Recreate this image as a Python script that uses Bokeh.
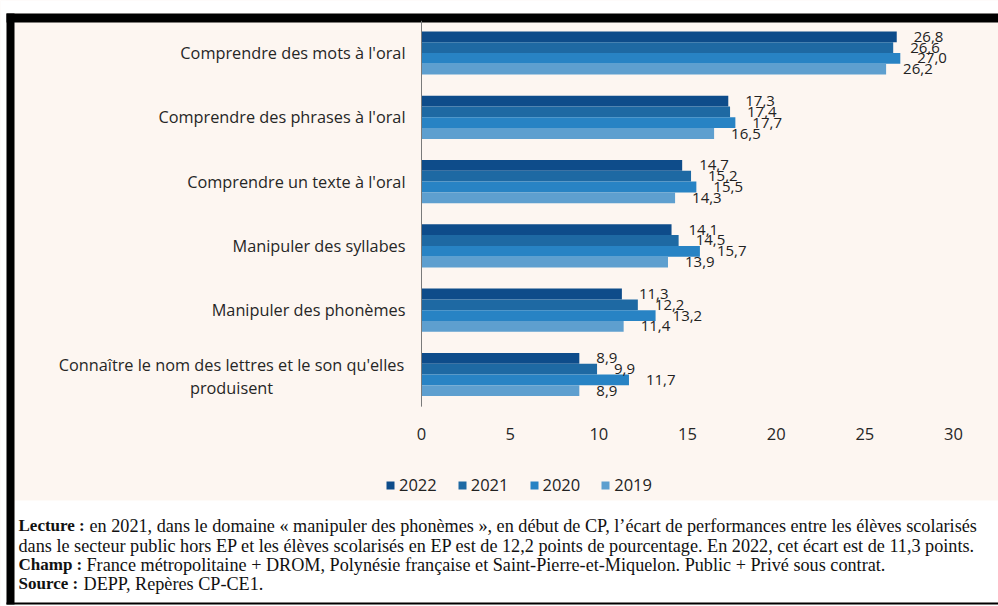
from bokeh.plotting import figure
from bokeh.models import (ColumnDataSource, LabelSet, Label, Legend, LegendItem,
                          BoxAnnotation, Range1d)
from bokeh.transform import dodge
from bokeh.core.properties import value
from bokeh.embed import file_html
from bokeh.resources import INLINE

# ---------------- data ----------------
categories = [
    "Comprendre des mots à l'oral",
    "Comprendre des phrases à l'oral",
    "Comprendre un texte à l'oral",
    "Manipuler des syllabes",
    "Manipuler des phonèmes",
    "Connaître le nom des lettres et le son qu'elles\nproduisent",
]
years = ["2022", "2021", "2020", "2019"]
v2022 = [26.8, 17.3, 14.7, 14.1, 11.3, 8.9]
v2021 = [26.6, 17.4, 15.2, 14.5, 12.2, 9.9]
v2020 = [27.0, 17.7, 15.5, 15.7, 13.2, 11.7]
v2019 = [26.2, 16.5, 14.3, 13.9, 11.4, 8.9]
x_ticks = [0, 5, 10, 15, 20, 25, 30]

note_bold = ["Lecture :", "", "Champ :", "Source :"]
note_text = [
    "en 2021, dans le domaine « manipuler des phonèmes », en début de CP, l’écart de performances entre les élèves scolarisés",
    "dans le secteur public hors EP et les élèves scolarisés en EP est de 12,2 points de pourcentage. En 2022, cet écart est de 11,3 points.",
    "France métropolitaine + DROM, Polynésie française et Saint-Pierre-et-Miquelon. Public + Privé sous contrat.",
    "DEPP, Repères CP-CE1.",
]

# ---------------- style / layout ----------------
colors = ["#0e4c8a", "#1e69a3", "#2883c4", "#5e9fcf"]
cream = "#fdf6f1"
FONT = "Open Sans"
SERIF = "Liberation Serif"
W, H = 998, 606
X0_PX = 421.0          # screen x of value 0
PX_X = 17.733          # px per unit on the value axis
TOP_PX = 52.5          # screen y of first category centre
PX_Y = 64.3            # px per category
LINE_PX = 23.0         # line spacing of wrapped category labels

n = len(categories)
ypos = list(range(n))[::-1]          # first category on top
y_top_val = ypos[0]

x_range = Range1d(-X0_PX / PX_X, (W - X0_PX) / PX_X)
y_range = Range1d(y_top_val - (H - TOP_PX) / PX_Y, y_top_val + TOP_PX / PX_Y)

p = figure(width=W, height=H, output_backend="svg", toolbar_location=None,
           x_range=x_range, y_range=y_range, x_axis_location=None, y_axis_location=None,
           min_border=0)
p.background_fill_color = cream
p.border_fill_color = cream
p.outline_line_color = None
p.xgrid.grid_line_color = None
p.ygrid.grid_line_color = None

# page decoration boxes (canvas units, y from top)
def box(l, r, t, b, color):
    bx = BoxAnnotation(left=l, right=r, top=t, bottom=b,
                       left_units="canvas", right_units="canvas",
                       bottom_units="canvas", top_units="canvas",
                       fill_color=color, fill_alpha=1, line_color=None, level="underlay")
    p.add_layout(bx)

box(0, W, 0, 13, "white")
box(0, 6, 0, H, "white")
box(14, W, 500, 602, "white")
box(0, W, 604, H, "white")
box(6, 14, 13, 604, "black")
box(6, W, 13, 22, "black")
box(6, W, 602, 604, "black")

# ---------------- bars ----------------
fmt = lambda vals: [f"{v:.1f}".replace(".", ",") for v in vals]
src = ColumnDataSource(dict(y=ypos, v2022=v2022, v2021=v2021, v2020=v2020, v2019=v2019,
                            l2022=fmt(v2022), l2021=fmt(v2021), l2020=fmt(v2020), l2019=fmt(v2019)))
bh = 0.168
offsets = [1.5 * bh, 0.5 * bh, -0.5 * bh, -1.5 * bh]
renderers = []
for yr, col, off in zip(years, colors, offsets):
    r = p.hbar(y=dodge("y", off), right="v" + yr, left=0, height=bh,
               source=src, fill_color=col, line_color=None)
    renderers.append(r)
    p.add_layout(LabelSet(x="v" + yr, y=dodge("y", off), text="l" + yr, source=src,
                          x_offset=17, text_baseline="middle", text_align="left",
                          text_font=value(FONT), text_font_size="15px", text_color="#222222"))

# vertical axis line
p.segment(x0=0, x1=0, y0=min(ypos) - 0.5, y1=max(ypos) + 0.5, line_color="#7a7a7a", line_width=1)

# category labels (wrapped labels: each line centred under the first)
lx, ly, lt, la, lo = [], [], [], [], []
for c, yv in zip(categories, ypos):
    parts = c.split("\n")
    m = len(parts)
    for k, part in enumerate(parts):
        lx.append(0)
        ly.append(yv + ((m - 1) / 2 - k) * LINE_PX / PX_Y - (1.5 / PX_Y if m > 1 else 0))
        lt.append(part)
        la.append("right" if m == 1 else "center")
        lo.append(-16 if m == 1 else -190)
csrc = ColumnDataSource(dict(x=lx, y=ly, t=lt, al=la, xo=lo))
p.add_layout(LabelSet(x="x", y="y", text="t", source=csrc, x_offset="xo", text_align="al",
                      text_baseline="middle", text_font=value(FONT), text_font_size="16.3px",
                      text_color="#262626"))

# value-axis tick labels
tick_y = min(ypos) - 0.5 - 27 / PX_Y
tsrc = ColumnDataSource(dict(x=x_ticks, y=[tick_y] * len(x_ticks), t=[str(t) for t in x_ticks]))
p.add_layout(LabelSet(x="x", y="y", text="t", source=tsrc, text_align="center",
                      text_baseline="middle", text_font=value(FONT), text_font_size="16.5px",
                      text_color="#262626"))

# ---------------- legend ----------------
legend = Legend(items=[LegendItem(label=yr, renderers=[r]) for yr, r in zip(years, renderers)],
                orientation="horizontal", location=(385, 110), glyph_width=10, glyph_height=10,
                label_standoff=4, spacing=20, padding=0, margin=0, border_line_color=None,
                background_fill_alpha=0, label_text_font=FONT, label_text_font_size="16.5px",
                label_text_color="#222222", label_height=20)
p.add_layout(legend)

# ---------------- note text ----------------
line_y = [525, 545, 564, 583]
reg_x = [89, 18, 86, 83]
for bold, reg, y, rx in zip(note_bold, note_text, line_y, reg_x):
    if bold:
        p.add_layout(Label(x=18, y=y, x_units="canvas", y_units="canvas", text=bold,
                           text_font=SERIF, text_font_style="bold", text_font_size="17px",
                           text_baseline="middle", text_color="#111111"))
    p.add_layout(Label(x=rx, y=y, x_units="canvas", y_units="canvas", text=reg,
                       text_font=SERIF, text_font_size="18.2px",
                       text_baseline="middle", text_color="#111111"))

open("out.html", "w").write(file_html(p, INLINE))
